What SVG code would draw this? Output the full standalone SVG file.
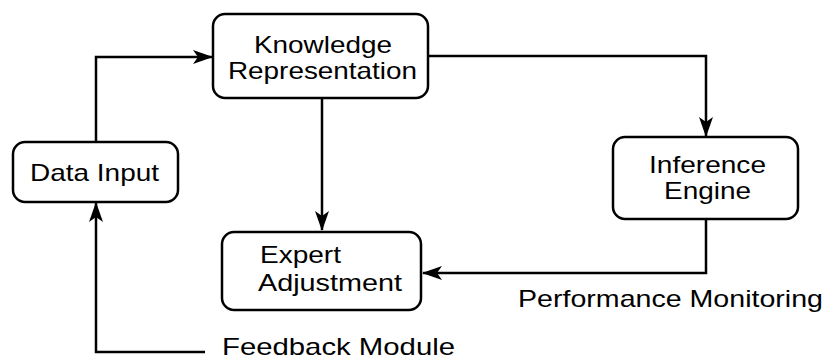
<svg xmlns="http://www.w3.org/2000/svg" width="826" height="360" viewBox="0 0 826 360">
<style>
.box{fill:#fff;stroke:#000;stroke-width:2.5}
.t{font-family:"Liberation Sans",Arial,sans-serif;font-size:24px;fill:#000}
.c{fill:none;stroke:#000;stroke-width:2.5}
</style>
<defs>
<marker id="ah" viewBox="0 0 20 14" refX="19" refY="7" markerWidth="20" markerHeight="14" markerUnits="userSpaceOnUse" orient="auto">
<path d="M0,0 L20,7 L0,14 L5,7 Z" fill="#000"/>
</marker>
</defs>
<rect width="826" height="360" fill="#fff"/>
<g id="connectors">
<path class="c" d="M96,142 V57 H212" marker-end="url(#ah)"/>
<path class="c" d="M428,56 H706 V136" marker-end="url(#ah)"/>
<path class="c" d="M322,98 V230" marker-end="url(#ah)"/>
<path class="c" d="M706,219 V273 H423" marker-end="url(#ah)"/>
<path class="c" d="M205,352 H96 V203" marker-end="url(#ah)"/>
</g>
<g id="knowledge-representation">
<rect class="box" x="213" y="14" width="215" height="84" rx="12"/>
<text class="t" x="254" y="53" textLength="138" lengthAdjust="spacingAndGlyphs">Knowledge</text>
<text class="t" x="228" y="79" textLength="189" lengthAdjust="spacingAndGlyphs">Representation</text>
</g>
<g id="data-input">
<rect class="box" x="13" y="142" width="165" height="60" rx="12"/>
<text class="t" x="30" y="181" textLength="129" lengthAdjust="spacingAndGlyphs">Data Input</text>
</g>
<g id="inference-engine">
<rect class="box" x="613" y="137" width="185" height="82" rx="12"/>
<text class="t" x="649" y="173" textLength="117" lengthAdjust="spacingAndGlyphs">Inference</text>
<text class="t" x="664" y="199" textLength="87" lengthAdjust="spacingAndGlyphs">Engine</text>
</g>
<g id="expert-adjustment">
<rect class="box" x="222" y="232" width="199" height="78" rx="12"/>
<text class="t" x="260" y="263" textLength="81" lengthAdjust="spacingAndGlyphs">Expert</text>
<text class="t" x="258" y="291" textLength="144" lengthAdjust="spacingAndGlyphs">Adjustment</text>
</g>
<g id="performance-monitoring">
<text class="t" x="518" y="307" textLength="305" lengthAdjust="spacingAndGlyphs">Performance Monitoring</text>
</g>
<g id="feedback-module">
<text class="t" x="222" y="355" textLength="233" lengthAdjust="spacingAndGlyphs">Feedback Module</text>
</g>
</svg>
